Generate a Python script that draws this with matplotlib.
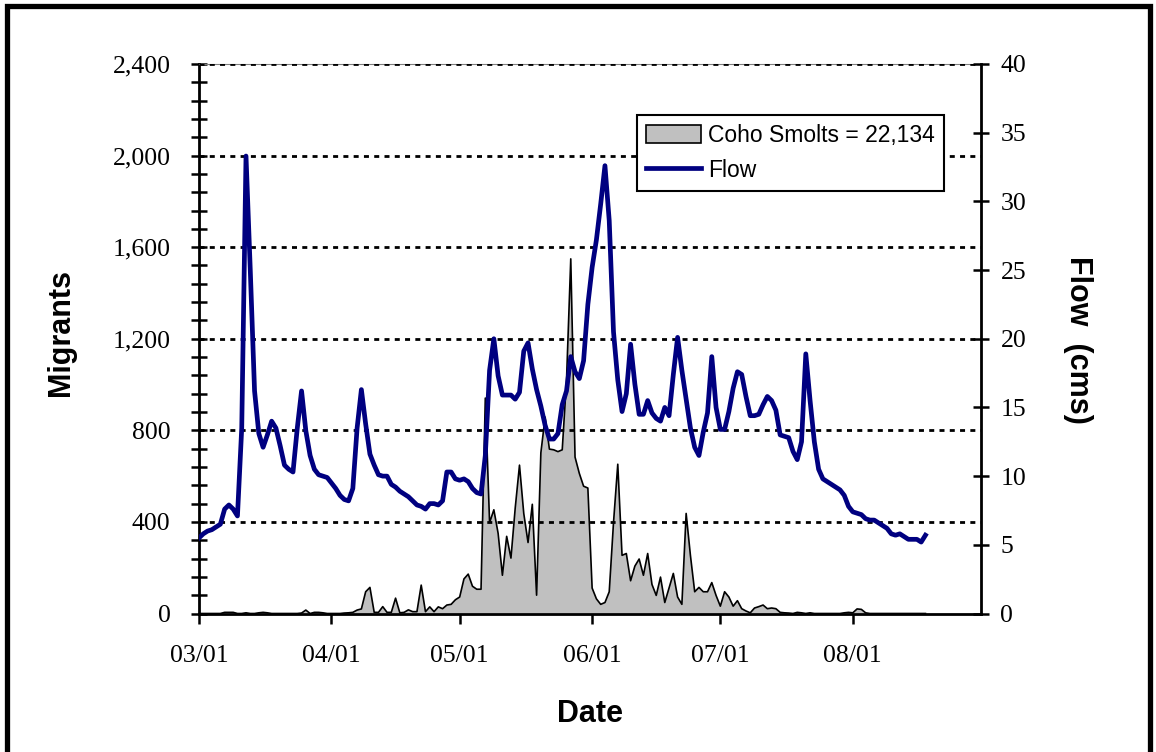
import numpy as np
import pandas as pd
import matplotlib
matplotlib.use("Agg")
import matplotlib.pyplot as plt
import matplotlib.dates as mdates
from matplotlib.patches import Patch, Rectangle
from matplotlib.lines import Line2D

# Daily trap data starting 1 March
start_date = "2006-03-01"

# Daily coho smolt catch (fish/day)
coho_smolts = [
    0, 0, 0, 0, 0, 0, 5, 5, 5, 0,
    0, 3, 0, 0, 3, 5, 3, 0, 0, 0,
    0, 0, 0, 0, 2, 15, 0, 5, 5, 3,
    0, 0, 0, 0, 2, 3, 5, 15, 20, 95,
    114, 5, 5, 30, 5, 5, 67, 3, 5, 16,
    8, 8, 124, 8, 29, 8, 29, 21, 37, 40,
    60, 72, 151, 172, 119, 106, 106, 941, 397, 453,
    350, 167, 337, 242, 461, 648, 437, 310, 477, 80,
    702, 858, 718, 715, 707, 715, 1017, 1549, 683, 612,
    556, 548, 111, 64, 40, 48, 95, 397, 652, 254,
    262, 143, 207, 238, 167, 262, 127, 79, 159, 48,
    111, 175, 72, 40, 437, 254, 95, 114, 95, 95,
    135, 79, 32, 95, 72, 32, 56, 21, 11, 3,
    24, 30, 37, 21, 24, 21, 5, 3, 2, 0,
    5, 3, 0, 3, 0, 0, 0, 0, 0, 0,
    0, 3, 5, 3, 20, 18, 3, 0, 0, 0,
    0, 0, 0, 0, 0, 0, 0, 0, 0, 0,
    0,
]

# Daily mean stream flow (cms)
flow_cms = [
    5.5, 5.8, 6.0, 6.1, 6.3, 6.5, 7.6, 7.9, 7.6, 7.1,
    13.5, 33.3, 25.0, 16.2, 13.1, 12.1, 13.0, 14.0, 13.5, 12.2,
    10.8, 10.5, 10.3, 13.5, 16.2, 13.3, 11.5, 10.5, 10.1, 10.0,
    9.9, 9.5, 9.1, 8.6, 8.3, 8.2, 9.1, 13.5, 16.3, 13.8,
    11.6, 10.8, 10.1, 10.0, 10.0, 9.4, 9.2, 8.9, 8.7, 8.5,
    8.2, 7.9, 7.8, 7.6, 8.0, 8.0, 7.9, 8.2, 10.3, 10.3,
    9.8, 9.7, 9.8, 9.6, 9.1, 8.8, 8.7, 11.5, 17.7, 20.0,
    17.3, 15.9, 15.9, 15.9, 15.6, 16.1, 19.1, 19.7, 17.8, 16.3,
    15.1, 13.7, 12.7, 12.7, 13.1, 15.2, 16.2, 18.7, 17.6, 17.1,
    18.4, 22.5, 25.2, 27.2, 29.8, 32.6, 28.6, 20.5, 17.0, 14.7,
    16.0, 19.6, 16.7, 14.5, 14.5, 15.5, 14.6, 14.2, 14.0, 15.0,
    14.4, 17.4, 20.1, 17.7, 15.6, 13.5, 12.1, 11.5, 13.2, 14.6,
    18.7, 15.0, 13.4, 13.4, 14.7, 16.4, 17.6, 17.4, 15.8, 14.4,
    14.4, 14.5, 15.2, 15.8, 15.5, 14.8, 13.0, 12.9, 12.8, 11.8,
    11.2, 12.5, 18.9, 15.5, 12.5, 10.5, 9.8, 9.6, 9.4, 9.2,
    9.0, 8.6, 7.8, 7.4, 7.3, 7.2, 6.9, 6.8, 6.8, 6.6,
    6.4, 6.2, 5.8, 5.7, 5.8, 5.6, 5.4, 5.4, 5.4, 5.2,
    5.7,
]

smolt_label = "Coho Smolts = 22,134"
flow_label = "Flow"
migrant_ticks = [0, 400, 800, 1200, 1600, 2000, 2400]
flow_ticks = [0, 5, 10, 15, 20, 25, 30, 35, 40]

dates = pd.date_range(start_date, periods=len(flow_cms), freq="D")
x_end = pd.Timestamp("2006-08-31")

W, H = 1156, 752
fig = plt.figure(figsize=(W / 100, H / 100), dpi=100)
fig.patch.set_facecolor("white")

ax = fig.add_axes([199 / W, 1 - 613.5 / H, (981 - 199) / W, (613.5 - 64) / H])
ax2 = ax.twinx()

serif = "Liberation Serif"
sans = "Liberation Sans"

# Smolt catch as a grey area with black outline
ax.fill_between(dates, coho_smolts, 0, facecolor="#C0C0C0", edgecolor="none", zorder=1)
ax.plot(dates, coho_smolts, color="black", lw=1.2, zorder=1.5)

# Flow on the secondary axis
ax2.plot(dates, flow_cms, color="#000080", lw=3.4, solid_joinstyle="round", zorder=3)

# Dotted horizontal gridlines above the area
for v in migrant_ticks[1:]:
    ax.axhline(v, color="black", lw=2.0, ls=(0, (1.8, 1.9)), zorder=3)

ax.set_xlim(dates[0], x_end)
ax.set_ylim(0, 2400)
ax2.set_ylim(0, 40)

# X axis: month ticks
ax.xaxis.set_major_locator(mdates.MonthLocator())
ax.xaxis.set_major_formatter(mdates.DateFormatter("%m/%d"))
ax.tick_params(axis="x", direction="out", length=7, width=1.8, pad=16,
               labelsize=18.5, labelfontfamily=serif)

# Left axis
ax.set_yticks(migrant_ticks)
ax.set_yticks(np.arange(0, 2401, 80), minor=True)
ax.yaxis.set_major_formatter(matplotlib.ticker.FuncFormatter(lambda v, p: f"{int(v):,}"))
ax.tick_params(axis="y", which="both", direction="inout", length=12, width=1.8,
               labelsize=18.5, labelfontfamily=serif, pad=14.5)
ax.tick_params(axis="y", which="minor", labelleft=False)

# Right axis
ax2.set_yticks(flow_ticks)
ax2.tick_params(axis="y", direction="inout", length=12, width=1.8,
                labelsize=18.5, labelfontfamily=serif, pad=8)

for s in ["left", "bottom"]:
    ax.spines[s].set_linewidth(2.0)
ax.spines["right"].set_visible(False)
ax.spines["top"].set_color("#808080")
ax.spines["top"].set_linewidth(0.8)
for s in ["left", "top", "bottom"]:
    ax2.spines[s].set_visible(False)
ax2.spines["right"].set_linewidth(2.0)

# Axis titles
fig.text(61 / W, 1 - 333 / H, "Migrants", rotation=90, ha="center", va="center",
         fontsize=22, fontweight="bold", family=sans)
fig.text(1078 / W, 1 - 340 / H, "Flow  (cms)", rotation=270, ha="center", va="center",
         fontsize=22, fontweight="bold", family=sans)
fig.text(590 / W, 1 - 714 / H, "Date", ha="center", va="center",
         fontsize=22, fontweight="bold", family=sans)

# Legend
handles = [
    Patch(facecolor="#C0C0C0", edgecolor="black", lw=1.2),
    Line2D([0], [0], color="#000080", lw=3.4),
]
leg = fig.legend(handles, [smolt_label, flow_label], loc="upper left",
                 bbox_to_anchor=(637 / W, 1 - 115 / H), bbox_transform=fig.transFigure,
                 prop={"family": sans, "size": 16.5}, frameon=True, fancybox=False,
                 edgecolor="black", framealpha=1, borderpad=0.4, handlelength=2.4,
                 handleheight=0.8, handletextpad=0.3, labelspacing=0.5, borderaxespad=0)
leg.get_frame().set_linewidth(1.5)

# Outer frame around the chart
fig.patches.append(Rectangle((7 / W, -0.05), (1150 - 7) / W, 1.05 - 6 / H,
                             transform=fig.transFigure, fill=False,
                             edgecolor="black", lw=3.8))

fig.savefig("out.png", dpi=100, facecolor="white")
